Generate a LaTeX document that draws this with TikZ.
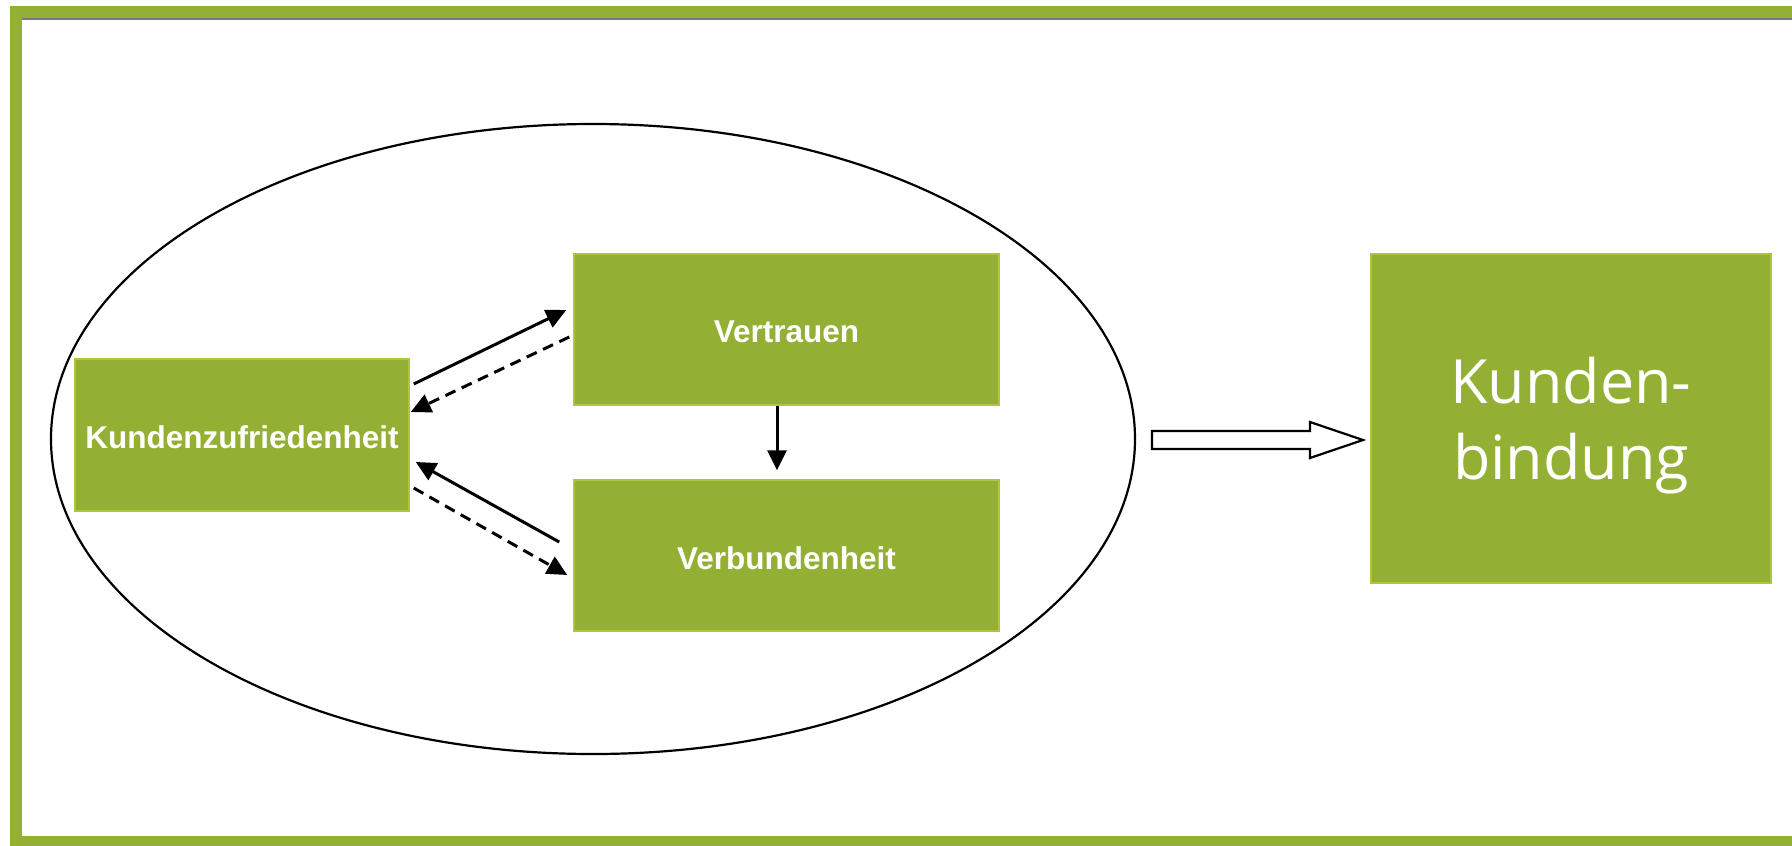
\documentclass[tikz,border=0pt]{standalone}
\usepackage{fontspec}
\setmainfont{Liberation Sans}
\newfontfamily\kbfont{Open Sans}
\usetikzlibrary{arrows.meta,calc}
\definecolor{bgreen}{HTML}{94B034}
\definecolor{bedge}{HTML}{AFC63A}
\definecolor{fgray}{HTML}{7A7A7A}
\newcommand{\lowerby}[2]{\raisebox{-#1}[\height][\depth]{#2}}
\tikzset{
  gbox/.style={fill=bgreen,draw=bedge,line width=1.5pt,inner sep=0pt,text=white,align=center},
  conn/.style={line width=3pt,-{Triangle[length=20pt,width=19pt]}},
  dconn/.style={conn,dash pattern=on 11pt off 7pt},
}
\begin{document}
\begin{tikzpicture}[x=1pt,y=-1pt]
\useasboundingbox (0,0) rectangle (1792,846);
\fill[white] (0,0) rectangle (1792,846);
% frame
\draw[bgreen,line width=11.5pt] (1800,12) -- (15.75,12) -- (15.75,842) -- (1800,842);
\draw[fgray,line width=2.5pt] (21.5,19.2) -- (1800,19.2);
% ellipse
\draw[line width=2.2pt] (593,439) ellipse [x radius=542,y radius=315];
% nodes
\node[gbox,minimum width=334pt,minimum height=152pt,font=\bfseries\fontsize{31.5}{36}\selectfont] (kz) at (242,435) {\lowerby{2.5pt}{Kundenzufriedenheit}};
\node[gbox,minimum width=425pt,minimum height=151pt,font=\bfseries\fontsize{31.5}{36}\selectfont] (vt) at (786.5,329.5) {\lowerby{2.5pt}{Vertrauen}};
\node[gbox,minimum width=425pt,minimum height=151pt,font=\bfseries\fontsize{31.5}{36}\selectfont] (vb) at (786.5,555.5) {\lowerby{2.5pt}{Verbundenheit}};
\node[gbox,minimum width=400pt,minimum height=329pt,font=\kbfont\fontsize{61}{76}\selectfont] (kb) at (1571,418.5) {\lowerby{8pt}{\begin{tabular}{@{}c@{}}Kunden-\\bindung\end{tabular}}};
% connectors
\draw[conn] ([xshift=4pt,yshift=51pt]kz.east) -- ([xshift=-7pt,yshift=19.5pt]vt.west);
\draw[dconn] ([xshift=-4pt,yshift=-7.5pt]vt.west) -- ([xshift=1pt,yshift=23pt]kz.east);
\draw[conn] ([xshift=-14pt,yshift=13.5pt]vb.west) -- ([xshift=6pt,yshift=-27pt]kz.east);
\draw[dconn] ([xshift=4pt,yshift=-53pt]kz.east) -- ([xshift=-6pt,yshift=-19.5pt]vb.west);
\draw[conn] ([xshift=-9.5pt]vt.south) -- ([xshift=-9.5pt,yshift=9pt]vb.north);
% block arrow
\draw[line width=2.2pt,fill=white] (1152,431) -- (1310,431) -- (1310,422) -- (1363,440) -- (1310,458) -- (1310,449) -- (1152,449) -- cycle;
\end{tikzpicture}
\end{document}
